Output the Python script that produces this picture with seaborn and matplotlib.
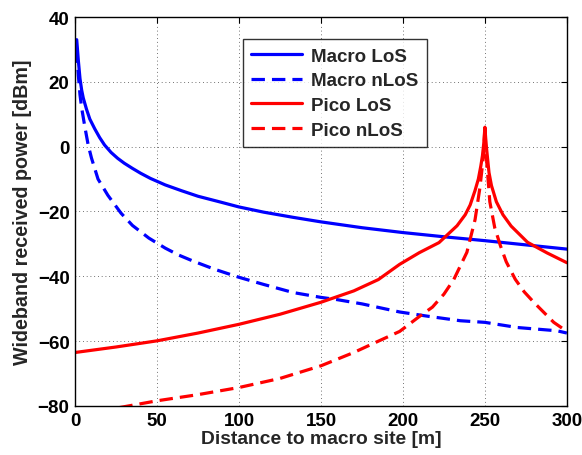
import matplotlib
matplotlib.use("Agg")
import matplotlib.pyplot as plt
import seaborn as sns
import pandas as pd

# Received power vs. distance from the macro site (pico cell placed at 250 m)
macro_los_x = [1, 2, 3, 4, 5, 7, 9, 12, 15, 18, 22, 26, 30, 35, 40, 46, 55, 65,
               75, 88, 100, 115, 133, 150, 175, 200, 225, 250, 275, 300]
macro_los_y = [33, 26.5, 21, 17.5, 15, 11.5, 8.5, 5.5, 2.8, 0.5, -1.8, -3.6,
               -5.1, -6.7, -8.2, -9.8, -11.8, -13.6, -15.3, -17, -18.6, -20.2,
               -21.8, -23.2, -25, -26.5, -27.8, -29, -30.3, -31.6]

macro_nlos_x = [1, 2, 3, 4, 6, 8, 10, 14, 20, 28, 35, 45, 55, 63, 72, 85, 100,
                115, 133, 150, 160, 175, 198, 215, 235, 250, 270, 294, 300]
macro_nlos_y = [30, 22, 16, 12, 6, 0.5, -3.5, -10, -15, -20.5, -24.3, -28.2,
                -31.3, -33.4, -35.3, -37.8, -40.3, -42.5, -45, -46.5, -47.2,
                -48.5, -51, -52.3, -53.7, -54.2, -55.8, -56.8, -57.5]

pico_los_x = [0, 25, 50, 75, 100, 125, 150, 170, 185, 198, 210, 222, 233, 238,
              241, 244, 246, 247.5, 248.5, 249.3, 250, 250.7, 251.5, 252.5, 254,
              257, 261, 266, 276, 288, 300]
pico_los_y = [-63.5, -61.8, -59.9, -57.5, -54.8, -51.7, -48, -44.5, -41,
              -36.3, -32.7, -29.6, -24.4, -21, -18, -13.5, -10, -6, -2.8, 1, 6,
              1, -3, -8, -12, -17, -21, -24.5, -29.5, -32.8, -35.8]

pico_nlos_x = [27, 50, 75, 100, 125, 150, 170, 185, 198, 210, 218, 225, 231,
               239, 244, 247, 249.3, 250, 250.7, 253, 256, 259.5, 263, 268.5,
               274, 280, 292, 300]
pico_nlos_y = [-80.5, -78.4, -76.5, -74.3, -71.5, -67.6, -63.5, -60, -57,
               -52.4, -49.5, -45.5, -41, -32.6, -22.5, -12.5, -2, 6, -2, -17,
               -25, -30.6, -35.5, -40.9, -44.8, -48.1, -54.2, -57]

series = [
    ("Macro LoS", macro_los_x, macro_los_y, "#0000ff", "-"),
    ("Macro nLoS", macro_nlos_x, macro_nlos_y, "#0000ff", "--"),
    ("Pico LoS", pico_los_x, pico_los_y, "#ff0000", "-"),
    ("Pico nLoS", pico_nlos_x, pico_nlos_y, "#ff0000", "--"),
]

sns.set_style("white")
plt.rcParams["font.family"] = ["Liberation Sans", "DejaVu Sans"]
plt.rcParams["font.weight"] = "bold"

fig = plt.figure(figsize=(5.82, 4.56), dpi=100)
ax = fig.add_axes([0.129, 0.1075, 0.845, 0.853])

for name, xs, ys, color, ls in series:
    df = pd.DataFrame({"x": xs, "y": ys})
    sns.lineplot(data=df, x="x", y="y", ax=ax, sort=False, color=color,
                 linestyle=ls, linewidth=2.3, label=name)
for line in ax.get_lines():
    if line.get_linestyle() == "--":
        line.set_dashes([4.2, 2.2])

ax.set_xlim(0, 300)
ax.set_ylim(-80, 40)
ax.set_xticks(range(0, 301, 50))
ax.set_yticks(range(-80, 41, 20))
ax.set_yticklabels([str(v).replace("-", "\u2212") for v in range(-80, 41, 20)])
ax.grid(True, linestyle=(0, (1, 3.5)), color="#444444", linewidth=0.6)
ax.tick_params(direction="in", top=True, right=True, length=4, width=0.8,
               labelsize=13.5, pad=4, colors="black")
for lab in ax.get_xticklabels() + ax.get_yticklabels():
    lab.set_fontweight("bold")
for sp in ax.spines.values():
    sp.set_color("black")
    sp.set_linewidth(1.0)

ax.set_xlabel("Distance to macro site [m]", fontsize=13.9, fontweight="bold",
              labelpad=1)
ax.set_ylabel("Wideband received power [dBm]", fontsize=14.2, fontweight="bold",
              labelpad=4)

leg = ax.legend(loc="upper left", bbox_to_anchor=(0.341, 0.943),
                fontsize=13.5, frameon=True, fancybox=False, edgecolor="black",
                handlelength=2.7, handletextpad=0.5, borderpad=0.45,
                labelspacing=0.4, borderaxespad=0)
leg.get_frame().set_linewidth(1.0)
for t in leg.get_texts():
    t.set_fontweight("bold")

fig.savefig("out.png", dpi=100)
